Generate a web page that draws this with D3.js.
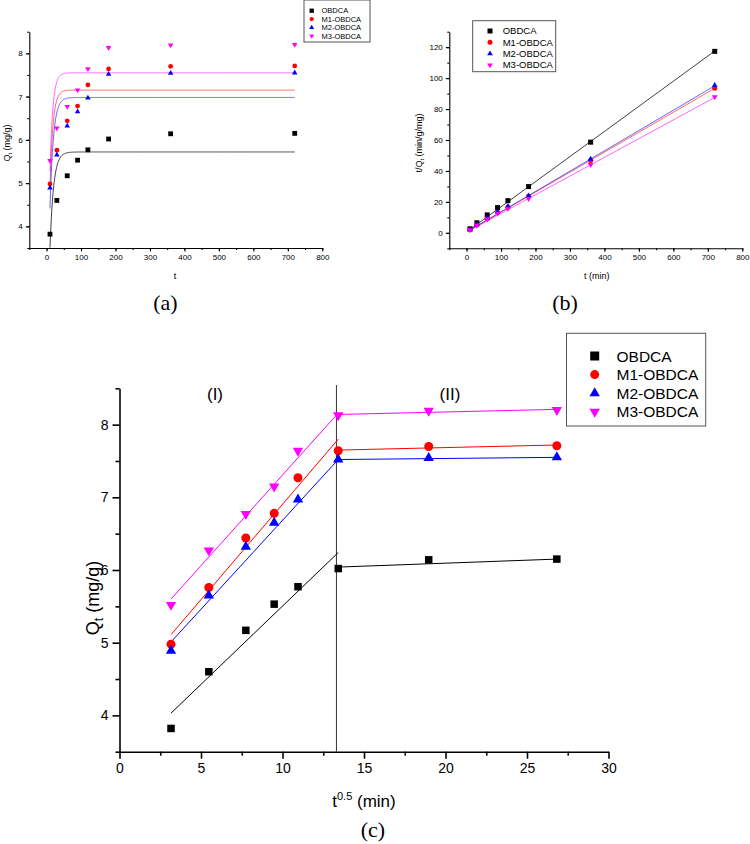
<!DOCTYPE html>
<html>
<head>
<meta charset="utf-8">
<script src="https://cdn.jsdelivr.net/npm/d3@7"></script>
<style>
  html, body { margin: 0; padding: 0; background: #fff; }
  svg { display: block; }
  text { font-family: "Liberation Sans", Arial, sans-serif; fill: #000; }
  .serif { font-family: "Liberation Serif", "Times New Roman", serif; }
</style>
</head>
<body>
<svg id="chart" width="750" height="844"></svg>
<script>
// ---------------- DATA ----------------
const seriesNames = ["OBDCA", "M1-OBDCA", "M2-OBDCA", "M3-OBDCA"];
const seriesColors = ["#000000", "#ff0000", "#0000ff", "#ff00ff"];
const timeMin = [10, 30, 60, 90, 120, 180, 360, 720];
const sqrtTime = [3.16, 5.48, 7.75, 9.49, 10.95, 13.42, 18.97, 26.83];

// Qt (mg/g)
const qtOBDCA = [3.82, 4.60, 5.17, 5.53, 5.77, 6.02, 6.14, 6.15];
const qtM1 = [4.98, 5.76, 6.44, 6.78, 7.27, 7.64, 7.70, 7.71];
const qtM2 = [4.89, 5.65, 6.32, 6.65, 6.97, 7.52, 7.54, 7.55];
const qtM3 = [5.52, 6.27, 6.77, 7.15, 7.64, 8.13, 8.19, 8.20];

// t/Qt (min g/mg)
const tqOBDCA = [2.6, 6.5, 11.6, 16.3, 20.8, 29.9, 58.6, 117.3];
const tqM1 = [2.0, 5.2, 9.3, 13.3, 16.5, 23.6, 46.7, 93.4];
const tqM2 = [2.05, 5.3, 9.5, 13.5, 17.2, 23.9, 47.7, 95.4];
const tqM3 = [1.8, 4.8, 8.9, 12.6, 15.7, 22.1, 44.0, 87.8];

// (a) pseudo-first-order fit parameters
const pfoQe = [5.72, 7.15, 6.98, 7.55];
const pfoK = [0.095, 0.115, 0.10, 0.12];

// (b) pseudo-second-order linear fit: value at t = 10 and t = 720
const psoFitStart = [2.2, 1.8, 1.8, 1.6];
const psoFitEnd = [117.5, 93.4, 95.0, 87.5];

// (c) intra-particle diffusion fits: stage I (3.16 -> 13.4), stage II (13.4 -> 26.83)
const stage1Start = [4.03, 5.11, 5.01, 5.60];
const stage1End = [6.24, 7.80, 7.52, 8.16];
const stage2Start = [6.04, 7.65, 7.52, 8.14];
const stage2End = [6.15, 7.72, 7.55, 8.21];
const stageBreak = 13.31;

// ticks
const ticksA_x = [0, 100, 200, 300, 400, 500, 600, 700, 800];
const ticksA_y = [4, 5, 6, 7, 8];
const ticksB_y = [0, 20, 40, 60, 80, 100, 120];
const ticksC_x = [0, 5, 10, 15, 20, 25, 30];
const ticksC_y = [4, 5, 6, 7, 8];

const qtSeries = [qtOBDCA, qtM1, qtM2, qtM3];
const tqSeries = [tqOBDCA, tqM1, tqM2, tqM3];

// ---------------- DRAW ----------------
const svg = d3.select("#chart");
const fmt = d3.format("d");

function symbolPath(i, s) {
  if (i === 0) return d3.symbol(d3.symbolSquare, s * s)();
  if (i === 1) return d3.symbol(d3.symbolCircle, Math.PI * s * s / 4)();
  const side = s * 1.15;
  return d3.symbol(d3.symbolTriangle, Math.sqrt(3) / 4 * side * side)();
}
function addMarker(g, i, x, y, s) {
  g.append("path")
    .attr("d", symbolPath(i, s))
    .attr("transform", `translate(${x},${y})` + (i === 3 ? " rotate(180)" : ""))
    .attr("fill", seriesColors[i]);
}

function range(a, b, step) {
  const out = [];
  for (let v = a; v <= b + 1e-9; v += step) out.push(+v.toFixed(6));
  return out;
}

function drawAxes(g, x, y, o) {
  g.append("g").attr("transform", `translate(0,${y.range()[0]})`)
    .call(d3.axisBottom(x).tickValues(o.xMinor).tickSize(o.minorLen).tickSizeOuter(0).tickFormat(""))
    .call(a => a.select(".domain").remove())
    .call(a => a.selectAll("line").attr("stroke-width", o.lw));
  g.append("g").attr("transform", `translate(${x.range()[0]},0)`)
    .call(d3.axisLeft(y).tickValues(o.yMinor).tickSize(o.minorLen).tickSizeOuter(0).tickFormat(""))
    .call(a => a.select(".domain").remove())
    .call(a => a.selectAll("line").attr("stroke-width", o.lw));
  g.append("g").attr("transform", `translate(0,${y.range()[0]})`)
    .call(d3.axisBottom(x).tickValues(o.xMajor).tickFormat(fmt).tickSize(o.majorLen).tickSizeOuter(0).tickPadding(o.pad))
    .call(a => a.select(".domain").attr("stroke-width", o.lw))
    .call(a => a.selectAll("line").attr("stroke-width", o.lw))
    .call(a => a.selectAll("text").attr("font-size", o.fs));
  g.append("g").attr("transform", `translate(${x.range()[0]},0)`)
    .call(d3.axisLeft(y).tickValues(o.yMajor).tickFormat(fmt).tickSize(o.majorLen).tickSizeOuter(0).tickPadding(o.pad))
    .call(a => a.select(".domain").attr("stroke-width", o.lw))
    .call(a => a.selectAll("line").attr("stroke-width", o.lw))
    .call(a => a.selectAll("text").attr("font-size", o.fs));
}

function drawLegend(g, o) {
  g.append("rect").attr("x", o.x0).attr("y", o.y0).attr("width", o.x1 - o.x0).attr("height", o.y1 - o.y0)
    .attr("fill", "#fff").attr("stroke", "#555").attr("stroke-width", 1);
  seriesNames.forEach((n, i) => {
    const yy = o.y0 + o.firstDy + i * o.dy;
    addMarker(g, i, o.symX, yy, o.ms);
    g.append("text").attr("x", o.textX).attr("y", yy).attr("dy", "0.36em")
      .attr("font-size", o.fs).text(n);
  });
}

// ---------- Panel (a) ----------
{
  const g = svg.append("g");
  const x = d3.scaleLinear().domain([-50, 800]).range([29.3, 322.3]);
  const y = d3.scaleLinear().domain([3.5, 8.5]).range([248, 31.7]);
  g.append("clipPath").attr("id", "clipA").append("rect")
    .attr("x", 29.3).attr("y", 31.7).attr("width", 293).attr("height", 216.3);
  drawAxes(g, x, y, {
    xMajor: ticksA_x, xMinor: range(-50, 800, 50), yMajor: ticksA_y, yMinor: range(3.5, 8.5, 0.5),
    majorLen: 3.5, minorLen: 2, lw: 1.1, fs: 8, pad: 3
  });
  const tGrid = d3.range(10, 720.5, 1);
  const line = d3.line().x(d => x(d[0])).y(d => y(d[1]));
  pfoQe.forEach((qe, i) => {
    const pts = tGrid.map(t => [t, qe * (1 - Math.exp(-pfoK[i] * t))]);
    g.append("path").attr("d", line(pts)).attr("fill", "none")
      .attr("stroke", seriesColors[i]).attr("stroke-opacity", i === 0 ? 0.75 : 0.6)
      .attr("stroke-width", 1).attr("clip-path", "url(#clipA)");
  });
  qtSeries.forEach((arr, i) => arr.forEach((v, j) => addMarker(g, i, x(timeMin[j]), y(v), 4.8)));
  g.append("text").attr("x", 175).attr("y", 279).attr("text-anchor", "middle").attr("font-size", 9).text("t");
  const yl = g.append("text").attr("transform", "translate(10,143) rotate(-90)")
    .attr("text-anchor", "middle").attr("font-size", 9);
  yl.append("tspan").text("Q");
  yl.append("tspan").attr("font-size", 6).attr("dy", 2).text("t");
  yl.append("tspan").attr("dy", -2).text(" (mg/g)");
  drawLegend(g, { x0: 304, y0: 0, x1: 370, y1: 42, firstDy: 10.7, dy: 8.4, symX: 311.7, textX: 321.5, ms: 4.3, fs: 7.5 });
  g.append("text").attr("class", "serif").attr("x", 165.5).attr("y", 310).attr("text-anchor", "middle")
    .attr("font-size", 22).text("(a)");
}

// ---------- Panel (b) ----------
{
  const g = svg.append("g");
  const x = d3.scaleLinear().domain([-50, 800]).range([449.3, 742.3]);
  const y = d3.scaleLinear().domain([-10, 130]).range([248.3, 31.7]);
  drawAxes(g, x, y, {
    xMajor: ticksA_x, xMinor: range(-50, 800, 50), yMajor: ticksB_y, yMinor: range(-10, 130, 10),
    majorLen: 3.5, minorLen: 2, lw: 1.1, fs: 8, pad: 3
  });
  psoFitStart.forEach((s, i) => {
    g.append("line").attr("x1", x(10)).attr("y1", y(s)).attr("x2", x(720)).attr("y2", y(psoFitEnd[i]))
      .attr("stroke", seriesColors[i]).attr("stroke-opacity", i === 0 ? 0.75 : 0.6).attr("stroke-width", 1);
  });
  tqSeries.forEach((arr, i) => arr.forEach((v, j) => addMarker(g, i, x(timeMin[j]), y(v), 5)));
  g.append("text").attr("x", 596.7).attr("y", 279).attr("text-anchor", "middle").attr("font-size", 9).text("t (min)");
  const yl = g.append("text").attr("transform", "translate(422,143) rotate(-90)")
    .attr("text-anchor", "middle").attr("font-size", 9);
  yl.append("tspan").text("t/Q");
  yl.append("tspan").attr("font-size", 6).attr("dy", 2).text("t");
  yl.append("tspan").attr("dy", -2).text(" (min/g/mg)");
  drawLegend(g, { x0: 472.7, y0: 20.7, x1: 555.7, y1: 71.7, firstDy: 10.3, dy: 11.35, symX: 490, textX: 502.7, ms: 5, fs: 9.5 });
  g.append("text").attr("class", "serif").attr("x", 565).attr("y", 310).attr("text-anchor", "middle")
    .attr("font-size", 22).text("(b)");
}

// ---------- Panel (c) ----------
{
  const g = svg.append("g");
  const x = d3.scaleLinear().domain([0, 30]).range([119.5, 608.5]);
  const y = d3.scaleLinear().domain([3.5, 8.5]).range([751.7, 388.3]);
  drawAxes(g, x, y, {
    xMajor: ticksC_x, xMinor: range(2.5, 27.5, 5), yMajor: ticksC_y, yMinor: range(3.5, 8.5, 1),
    majorLen: 7, minorLen: 4, lw: 1.6, fs: 14, pad: 4
  });
  g.append("line").attr("x1", x(stageBreak)).attr("x2", x(stageBreak)).attr("y1", 385).attr("y2", y(3.5))
    .attr("stroke", "#333").attr("stroke-width", 1);
  seriesNames.forEach((n, i) => {
    g.append("line").attr("x1", x(sqrtTime[0])).attr("y1", y(stage1Start[i]))
      .attr("x2", x(sqrtTime[5])).attr("y2", y(stage1End[i]))
      .attr("stroke", seriesColors[i]).attr("stroke-width", 1);
    g.append("line").attr("x1", x(sqrtTime[5])).attr("y1", y(stage2Start[i]))
      .attr("x2", x(sqrtTime[7])).attr("y2", y(stage2End[i]))
      .attr("stroke", seriesColors[i]).attr("stroke-width", 1);
  });
  qtSeries.forEach((arr, i) => arr.forEach((v, j) => addMarker(g, i, x(sqrtTime[j]), y(v), i === 0 ? 7.5 : 9)));
  g.append("text").attr("x", 215).attr("y", 400).attr("text-anchor", "middle").attr("font-size", 17).text("(I)");
  g.append("text").attr("x", 450).attr("y", 400).attr("text-anchor", "middle").attr("font-size", 17).text("(II)");
  const xl = g.append("text").attr("x", 364).attr("y", 807).attr("text-anchor", "middle").attr("font-size", 17);
  xl.append("tspan").text("t");
  xl.append("tspan").attr("font-size", 11).attr("dy", -7).text("0.5");
  xl.append("tspan").attr("dy", 7).text(" (min)");
  const yl = g.append("text").attr("transform", "translate(99,598) rotate(-90)")
    .attr("text-anchor", "middle").attr("font-size", 18);
  yl.append("tspan").text("Q");
  yl.append("tspan").attr("font-size", 12).attr("dy", 4).text("t");
  yl.append("tspan").attr("dy", -4).text(" (mg/g)");
  drawLegend(g, { x0: 566.5, y0: 333.3, x1: 705.7, y1: 426, firstDy: 22.7, dy: 18.6, symX: 594.7, textX: 616.5, ms: 9, fs: 15.5 });
  g.append("text").attr("class", "serif").attr("x", 373).attr("y", 837).attr("text-anchor", "middle")
    .attr("font-size", 22).text("(c)");
}
</script>
</body>
</html>
